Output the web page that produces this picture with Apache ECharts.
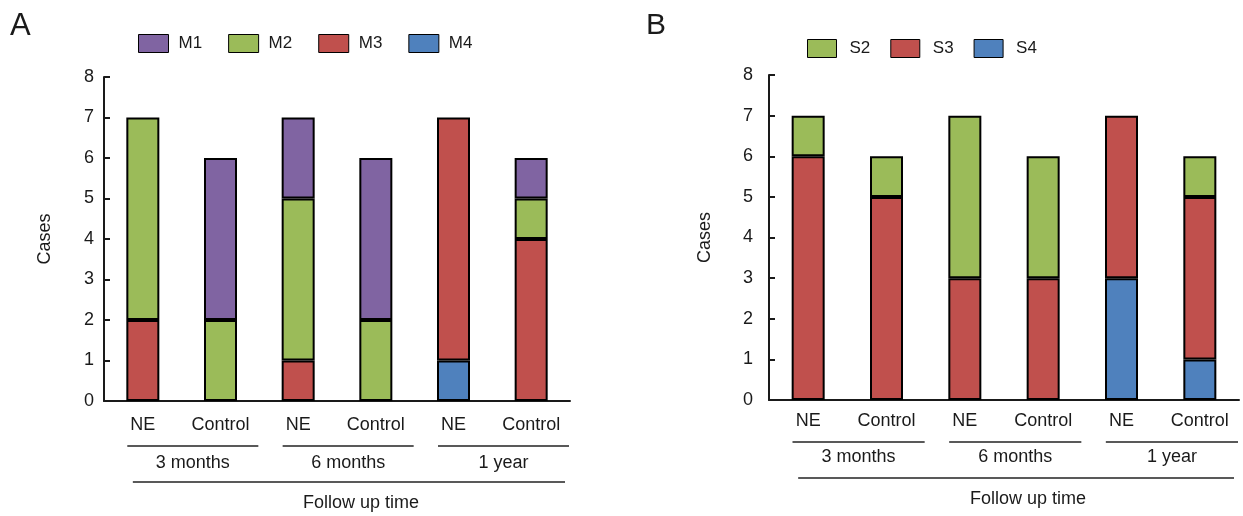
<!DOCTYPE html>
<html>
<head>
<meta charset="utf-8">
<script src="https://cdn.jsdelivr.net/npm/echarts@6/dist/echarts.min.js"></script>
<style>
  html, body { margin: 0; padding: 0; background: #fff; }
  #chart { width: 1243px; height: 516px; }
</style>
</head>
<body>
<div id="chart"></div>
<script>
var categories = ['NE', 'Control', 'NE', 'Control', 'NE', 'Control'];
var groups = ['3 months', '6 months', '1 year'];
var xTitle = 'Follow up time';
var yTitle = 'Cases';

// panel A (stack order bottom -> top: M4, M3, M2, M1)
var m1 = [0, 4, 2, 4, 0, 1];
var m2 = [5, 2, 4, 2, 0, 1];
var m3 = [2, 0, 1, 0, 6, 4];
var m4 = [0, 0, 0, 0, 1, 0];

// panel B (bottom -> top: S4, S3, S2)
var s2 = [1, 1, 4, 3, 0, 1];
var s3 = [6, 5, 3, 3, 4, 4];
var s4 = [0, 0, 0, 0, 3, 1];

var colors = { purple: '#8064A2', green: '#9BBB59', red: '#C0504D', blue: '#4F81BD' };
var font = '"Liberation Sans", Arial, sans-serif';
var ink = '#1a1a1a';

var dom = document.getElementById('chart');
var myChart = echarts.init(dom, null, { renderer: 'canvas' });

function bar(name, values, color, idx, stack) {
  return {
    name: name,
    type: 'bar',
    stack: stack,
    xAxisIndex: idx,
    yAxisIndex: idx,
    barWidth: 33,
    data: values.map(function (v) { return v || '-'; }),
    itemStyle: { color: color, borderColor: '#000', borderWidth: 2 },
    emphasis: { disabled: true }
  };
}

function xAxis(idx, margin) {
  return {
    type: 'category',
    gridIndex: idx,
    data: categories,
    boundaryGap: true,
    axisLine: { lineStyle: { color: ink, width: 2 } },
    axisTick: { inside: true, length: 6, lineStyle: { color: ink, width: 2 } },
    axisLabel: { color: ink, fontSize: 18, fontFamily: font, margin: margin, interval: 0 }
  };
}

function yAxis(idx, gap, margin) {
  return {
    type: 'value',
    gridIndex: idx,
    min: 0,
    max: 8,
    interval: 1,
    name: yTitle,
    nameLocation: 'middle',
    nameRotate: 90,
    nameGap: gap,
    nameTextStyle: { color: ink, fontSize: 18, fontFamily: font },
    axisLine: { show: true, lineStyle: { color: ink, width: 2 } },
    axisTick: { show: true, inside: true, length: 6, lineStyle: { color: ink, width: 2 } },
    axisLabel: { color: ink, fontSize: 18, fontFamily: font, margin: margin },
    splitLine: { show: false }
  };
}

var option = {
  animation: false,
  title: [
    { text: 'A', left: 5, top: 6, textStyle: { fontSize: 31, fontWeight: 'normal', color: ink, fontFamily: font } },
    { text: 'B', left: 641, top: 6, textStyle: { fontSize: 30, fontWeight: 'normal', color: ink, fontFamily: font } }
  ],
  legend: [
    {
      data: ['M1', 'M2', 'M3', 'M4'],
      left: 138, top: 34, padding: 0,
      itemWidth: 30, itemHeight: 18, itemGap: 26,
      icon: 'rect',
      itemStyle: { borderWidth: 1, borderColor: '#000' },
      textStyle: { fontSize: 17, color: ink, fontFamily: font, padding: [0, 0, 0, 5] }
    },
    {
      data: ['S2', 'S3', 'S4'],
      left: 807, top: 39, padding: 0,
      itemWidth: 29, itemHeight: 18, itemGap: 20,
      icon: 'rect',
      itemStyle: { borderWidth: 1, borderColor: '#000' },
      textStyle: { fontSize: 17, color: ink, fontFamily: font, padding: [0, 0, 0, 8] }
    }
  ],
  grid: [
    { left: 104, right: 673, top: 77, bottom: 115 },
    { left: 769, right: 4, top: 75, bottom: 116 }
  ],
  xAxis: [xAxis(0, 15), xAxis(1, 12)],
  yAxis: [yAxis(0, 50, 10), yAxis(1, 55, 16)],
  series: [
    bar('M4', m4, colors.blue, 0, 'a'),
    bar('M3', m3, colors.red, 0, 'a'),
    bar('M2', m2, colors.green, 0, 'a'),
    bar('M1', m1, colors.purple, 0, 'a'),
    bar('S4', s4, colors.blue, 1, 'b'),
    bar('S3', s3, colors.red, 1, 'b'),
    bar('S2', s2, colors.green, 1, 'b')
  ]
};

myChart.setOption(option);

// group brackets under the x axis, placed from the axis scales
function decorations(idx, offs) {
  var px = function (i) { return myChart.convertToPixel({ xAxisIndex: idx }, i); };
  var y0 = myChart.convertToPixel({ yAxisIndex: idx }, 0);
  var catW = px(1) - px(0);
  var els = [];
  var lineStyle = { stroke: '#222', lineWidth: 1.5 };
  groups.forEach(function (g, k) {
    var x1 = px(2 * k) - 0.2 * catW;
    var x2 = px(2 * k + 1) + 0.5 * catW - 1;
    els.push({ type: 'line', silent: true, shape: { x1: x1, y1: y0 + offs[0], x2: x2, y2: y0 + offs[0] }, style: lineStyle });
    els.push({ type: 'text', silent: true, x: (x1 + x2) / 2, y: y0 + offs[1],
      style: { text: g, fontSize: 18, fontFamily: font, fill: ink, align: 'center', verticalAlign: 'middle' } });
  });
  var bx1 = px(0) - 10;
  var bx2 = px(categories.length - 1) + 0.5 * catW - 5;
  els.push({ type: 'line', silent: true, shape: { x1: bx1, y1: y0 + offs[2], x2: bx2, y2: y0 + offs[2] }, style: lineStyle });
  els.push({ type: 'text', silent: true, x: (bx1 + bx2) / 2 + 12, y: y0 + offs[3],
    style: { text: xTitle, fontSize: 18, fontFamily: font, fill: ink, align: 'center', verticalAlign: 'middle' } });
  return els;
}

myChart.setOption({
  graphic: decorations(0, [45, 62, 81, 102]).concat(decorations(1, [42, 57, 78, 99]))
});

window.addEventListener('resize', myChart.resize);
</script>
</body>
</html>
